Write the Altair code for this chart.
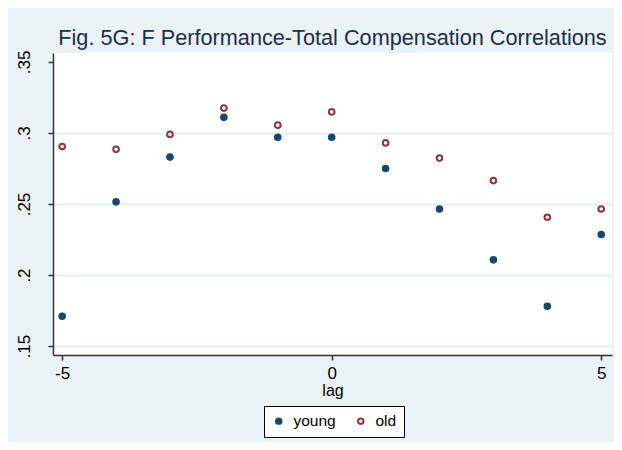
import altair as alt
import pandas as pd

lags = [-5, -4, -3, -2, -1, 0, 1, 2, 3, 4, 5]
young = [0.171, 0.2515, 0.283, 0.311, 0.297, 0.297, 0.275, 0.2465, 0.2107, 0.178, 0.2285]
old = [0.2905, 0.2885, 0.299, 0.3175, 0.3055, 0.3148, 0.293, 0.2823, 0.2665, 0.2407, 0.2465]
series_names = ["young", "old"]
series_colors = ["#1A476F", "#90353B"]
series_fills = ["#1A476F", "#FFFFFF"]
y_ticks = [0.15, 0.2, 0.25, 0.3, 0.35]
x_ticks = [-5, 0, 5]

rows = []
for name, vals in zip(series_names, [young, old]):
    for l, v in zip(lags, vals):
        rows.append({"lag": l, "corr": v, "series": name})
df = pd.DataFrame(rows)

legend = alt.Legend(
    title=None, orient="none", legendX=211, legendY=353, direction="horizontal",
    fillColor="white", strokeColor="black", padding=7, labelFontSize=15.5,
    labelFont="Liberation Sans", labelColor="black", symbolSize=30, symbolStrokeWidth=2,
    columnPadding=17, labelOffset=7,
)

chart = alt.Chart(df).mark_point(size=32, strokeWidth=2, opacity=1).encode(
    x=alt.X("lag:Q", title="lag",
            scale=alt.Scale(domain=[-5.17, 5.2], nice=False, zero=False),
            axis=alt.Axis(values=x_ticks, labelExpr="'' + datum.value", grid=False,
                          labelPadding=5, titlePadding=1, titleFontSize=16)),
    y=alt.Y("corr:Q", title=None,
            scale=alt.Scale(domain=[0.1437, 0.3563], nice=False, zero=False),
            axis=alt.Axis(values=y_ticks, labelExpr="substring(format(datum.value, '.2~f'), 1)",
                          labelAngle=270, labelPadding=15, grid=True, gridColor="#E6EFF1", gridWidth=2,
                          gridOpacity={"condition": {"test": "datum.value > 0.34", "value": 0}, "value": 1})),
    stroke=alt.Stroke("series:N", scale=alt.Scale(domain=series_names, range=series_colors), legend=legend),
    fill=alt.Fill("series:N", scale=alt.Scale(domain=series_names, range=series_fills), legend=legend),
).properties(
    width=559, height=302,
    title=alt.Title("Fig. 5G: F Performance-Total Compensation Correlations",
                    fontSize=21.7, font="Liberation Sans", fontWeight="normal",
                    color="#1E2D52", anchor="middle", offset=0),
    autosize=alt.AutoSizeParams(type="none"),
    padding={"left": 45, "top": 45, "right": 2, "bottom": 87},
    background="#EAF2F3",
).configure_view(
    fill="white", stroke=None,
).configure_axis(
    labelFont="Liberation Sans", titleFont="Liberation Sans", labelFontSize=17, titleFontSize=16,
    titleFontWeight="normal", labelColor="black", titleColor="black",
    domainColor="#333333", tickColor="#333333", tickSize=5, domainWidth=1.5, tickWidth=1.5,
)

chart.save("out.html", embed_options={"renderer": "svg", "actions": False})
